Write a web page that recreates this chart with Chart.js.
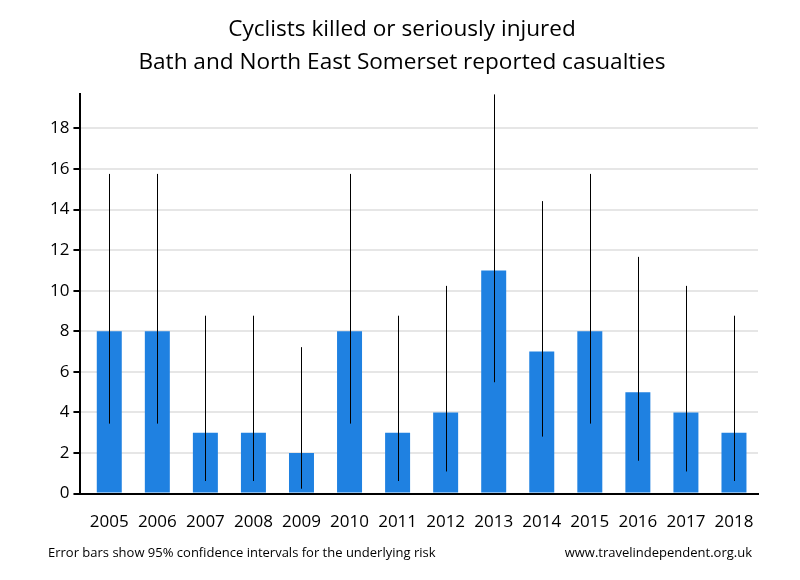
<!DOCTYPE html>
<html>
<head>
<meta charset="utf-8">
<script src="https://cdn.jsdelivr.net/npm/chart.js@4/dist/chart.umd.min.js"></script>
<style>
  html, body { margin: 0; padding: 0; background: #fff; }
  #wrap { width: 800px; height: 580px; }
</style>
</head>
<body>
<div id="wrap"><canvas id="chart" width="800" height="580"></canvas></div>
<script>
// data
const years = ['2005', '2006', '2007', '2008', '2009', '2010', '2011', '2012', '2013', '2014', '2015', '2016', '2017', '2018'];
const casualties = [8, 8, 3, 3, 2, 8, 3, 4, 11, 7, 8, 5, 4, 3];
const lowerCI = [3.45, 3.45, 0.62, 0.62, 0.24, 3.45, 0.62, 1.09, 5.49, 2.81, 3.45, 1.62, 1.09, 0.62];
const upperCI = [15.76, 15.76, 8.77, 8.77, 7.22, 15.76, 8.77, 10.24, 19.68, 14.42, 15.76, 11.67, 10.24, 8.77];
const yTicks = [0, 2, 4, 6, 8, 10, 12, 14, 16, 18];

const FONT = 'Open Sans';

// draws the confidence interval lines on top of the bars
const errorBars = {
    id: 'errorBars',
    afterDatasetsDraw(chart) {
        const ctx = chart.ctx;
        const x = chart.scales.x, y = chart.scales.y;
        ctx.save();
        ctx.strokeStyle = '#000';
        ctx.lineWidth = 1;
        years.forEach((yr, i) => {
            const px = Math.round(x.getPixelForValue(i)) + 0.5;
            ctx.beginPath();
            ctx.moveTo(px, y.getPixelForValue(lowerCI[i]));
            ctx.lineTo(px, y.getPixelForValue(upperCI[i]));
            ctx.stroke();
        });
        ctx.restore();
    }
};

// footer notes
const footer = {
    id: 'footer',
    afterDraw(chart) {
        const ctx = chart.ctx;
        ctx.save();
        ctx.fillStyle = '#000';
        ctx.font = '13px "' + FONT + '"';
        ctx.textBaseline = 'middle';
        ctx.textAlign = 'left';
        ctx.fillText('Error bars show 95% confidence intervals for the underlying risk', 48, 553);
        ctx.textAlign = 'right';
        ctx.fillText('www.travelindependent.org.uk', 752, 553);
        ctx.restore();
    }
};

new Chart(document.getElementById('chart').getContext('2d'), {
    type: 'bar',
    data: {
        datasets: [{
            data: casualties.map((v, i) => ({ x: i, y: v })),
            backgroundColor: '#1f81e1',
            barPercentage: 0.52,
            categoryPercentage: 1
        }]
    },
    options: {
        responsive: false,
        animation: false,
        layout: { padding: { left: 46, right: 42, top: 0, bottom: 30 } },
        plugins: {
            legend: { display: false },
            tooltip: { enabled: false },
            title: {
                display: true,
                text: ['Cyclists killed or seriously injured', 'Bath and North East Somerset reported casualties'],
                color: '#000',
                font: { family: FONT, size: 22.6, weight: 'normal', lineHeight: 1.46 },
                padding: { top: 13, bottom: 15 }
            }
        },
        scales: {
            x: {
                type: 'linear',
                min: -0.6,
                max: 13.5,
                offset: false,
                afterBuildTicks(axis) {
                    axis.ticks = years.map((y, i) => ({ value: i }));
                },
                grid: { display: false, drawTicks: false },
                border: { color: '#000', width: 2 },
                ticks: {
                    color: '#000', padding: 18, maxRotation: 0, autoSkip: false,
                    font: { family: FONT, size: 17 },
                    callback: v => years[v]
                }
            },
            y: {
                min: 0,
                max: 19.7,
                afterBuildTicks(axis) {
                    axis.ticks = yTicks.map(v => ({ value: v }));
                },
                grid: { color: '#e6e6e6', lineWidth: 2, tickColor: '#000', tickLength: 7, tickWidth: 2 },
                border: { color: '#000', width: 2 },
                ticks: { color: '#000', padding: 4, font: { family: FONT, size: 17 } }
            }
        }
    },
    plugins: [errorBars, footer]
});
</script>
</body>
</html>
